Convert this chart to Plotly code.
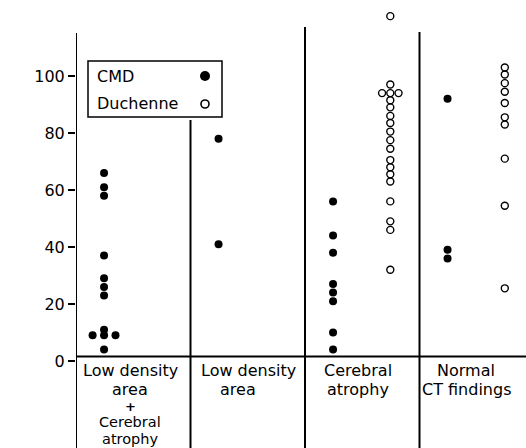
import plotly.graph_objects as go
from collections import Counter

# ---------------- data ----------------
categories = [
    ["Low density", "area", "<b>+</b>", "Cerebral", "atrophy"],
    ["Low density", "area"],
    ["Cerebral", "atrophy"],
    ["Normal", "CT findings"],
]
cmd_cat = [0] * 12 + [1] * 2 + [2] * 8 + [3] * 3
cmd_iq = [66, 61, 58, 37, 29, 26, 23, 11, 9, 9, 9, 4,
          78, 41,
          56, 44, 38, 27, 24, 21, 10, 4,
          92, 39, 36]
duch_cat = [2] * 20 + [3] * 10
duch_iq = [121, 97, 94, 94, 94, 91.5, 89, 86, 83.5, 80.5, 77.5, 74.5,
           70.5, 68, 65.5, 63, 56, 49, 46, 32,
           103, 100.5, 97.5, 94.5, 90.5, 85.5, 83, 71, 54.5, 25.5]
y_ticks = [0, 20, 40, 60, 80, 100]
series_names = ["CMD", "Duchenne"]
axis_title = "IQ<br>(DQ)"

# ---------------- geometry helpers ----------------
W, H = 526, 448
LEFT = 76
PX_PER_X = 114.5
Y0_PX = 361.0
PX_PER_Y = 2.85


def vy(p):  # pixel -> data value
    return (Y0_PX - p) / PX_PER_Y


def vx(p):
    return (p - LEFT) / PX_PER_X


x_range = [0, vx(W)]
y_range = [vy(H), vy(0)]


def positions(cats, vals, base, spread):
    cnt = Counter(zip(cats, vals))
    seen = Counter()
    xs = []
    for c, v in zip(cats, vals):
        n = cnt[(c, v)]
        k = seen[(c, v)]
        seen[(c, v)] += 1
        xs.append(c + base + (k - (n - 1) / 2) * spread)
    return xs


cmd_x = positions(cmd_cat, cmd_iq, 0.245, 0.1)
duch_x = positions(duch_cat, duch_iq, 0.745, 0.072)

FONT = "DejaVu Sans"
fig = go.Figure()
fig.add_trace(go.Scatter(
    x=cmd_x, y=cmd_iq, mode="markers", name=series_names[0],
    marker=dict(symbol="circle", size=8, color="black"),
    showlegend=False, cliponaxis=False))
fig.add_trace(go.Scatter(
    x=duch_x, y=duch_iq, mode="markers", name=series_names[1],
    marker=dict(symbol="circle-open", size=7, color="black", line=dict(width=1.4)),
    showlegend=False, cliponaxis=False))

# custom legend (text left, symbol right)
leg_x0, leg_x1 = vx(88), vx(222)
leg_y0, leg_y1 = vy(117), vy(61)
fig.add_shape(type="rect", x0=leg_x0, x1=leg_x1, y0=leg_y0, y1=leg_y1,
              line=dict(color="black", width=1.5), fillcolor="white", layer="below")
fig.add_trace(go.Scatter(
    x=[vx(205)], y=[vy(76)], mode="markers", showlegend=False, hoverinfo="skip",
    marker=dict(symbol="circle", size=10, color="black")))
fig.add_trace(go.Scatter(
    x=[vx(205)], y=[vy(104)], mode="markers", showlegend=False, hoverinfo="skip",
    marker=dict(symbol="circle-open", size=8, color="black", line=dict(width=1.6))))
for name, ypx in zip(series_names, [76, 103]):
    fig.add_annotation(x=vx(95), y=vy(ypx), text=name, showarrow=False,
                       xanchor="left", yanchor="middle",
                       font=dict(family=FONT, size=16, color="black"))

# axis / divider lines
LW = 2
fig.add_shape(type="line", x0=0, x1=0, y0=vy(33), y1=y_range[0],
              line=dict(color="black", width=LW), layer="above")
for xi, top in zip([1, 2, 3], [120, 27, 32]):
    fig.add_shape(type="line", x0=xi, x1=xi, y0=vy(top), y1=y_range[0],
                  line=dict(color="black", width=LW), layer="above")
fig.add_shape(type="line", x0=0, x1=x_range[1], y0=vy(356.5), y1=vy(356.5),
              line=dict(color="black", width=LW), layer="above")

# category labels
label_rows = [370, 389, 406, 422, 439]
label_size = [16, 16, 13, 14.5, 14.5]
label_cx = [[130, 130, 130, 130, 130], [248, 238], [358, 358], [466, 466]]
for ci, lines in enumerate(categories):
    for li, line in enumerate(lines):
        fig.add_annotation(x=vx(label_cx[ci][li]), y=vy(label_rows[li]), text=line,
                           showarrow=False, xanchor="center", yanchor="middle",
                           borderpad=0,
                           font=dict(family=FONT, size=label_size[li], color="black"))

# y axis title
fig.add_annotation(x=vx(31), y=vy(220), text=axis_title, showarrow=False,
                   xanchor="center", yanchor="middle",
                   font=dict(family=FONT, size=16, color="black"))

fig.update_layout(
    width=W, height=H,
    margin=dict(l=LEFT, r=0, t=0, b=0, autoexpand=False),
    paper_bgcolor="white", plot_bgcolor="white",
    xaxis=dict(range=x_range, showgrid=False, zeroline=False, showticklabels=False,
               showline=False, ticks="", automargin=False),
    yaxis=dict(range=y_range, showgrid=False, zeroline=False, showline=False,
               automargin=False,
               tickvals=y_ticks, ticktext=[str(t) for t in y_ticks],
               ticks="outside", ticklen=7, tickwidth=2, tickcolor="black",
               tickfont=dict(family=FONT, size=16, color="black")),
    font=dict(family=FONT, color="black"),
)
fig.write_html("out.html", config={"displayModeBar": False},
               post_script="document.body.style.margin='0';document.body.style.overflow='hidden';")
